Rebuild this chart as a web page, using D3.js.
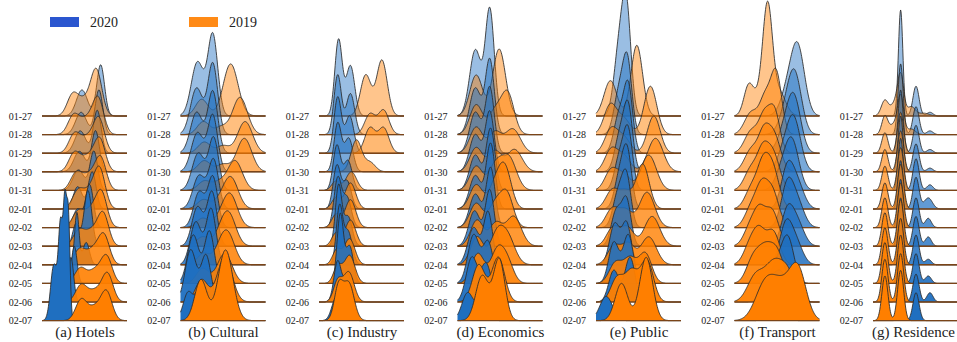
<!DOCTYPE html>
<html>
<head>
<meta charset="utf-8">
<script src="https://cdn.jsdelivr.net/npm/d3@7/dist/d3.min.js"></script>
<style>
  body { margin: 0; background: #fff; }
  svg { display: block; }
  text { font-family: "Liberation Serif", "Times New Roman", serif; fill: #222; }
</style>
</head>
<body>
<div id="chart"></div>
<script>
const dates = ['01-27', '01-28', '01-29', '01-30', '01-31', '02-01',
  '02-02', '02-03', '02-04', '02-05', '02-06', '02-07'];
const titles = ['(a) Hotels', '(b) Cultural', '(c) Industry', '(d) Economics',
  '(e) Public', '(f) Transport', '(g) Residence'];
const years = ['2020', '2019'];

// peaks per row: [position 0-100, height in rows, spread]
const hotels2020 = [
  [[47,1.4,5],[69,2.75,3.5]], [[46,1.2,5],[67,2.4,3.5]], [[45,1.2,5],[65,2.3,3.5]],
  [[44,1.1,5],[63,2.2,3.5]], [[43,1.1,5],[61,2.1,3.5]], [[42,1.2,4],[59,2.0,3.5]],
  [[42,1.0,4],[56,2.3,3.5]], [[40,1.2,3],[54,3.0,3.5]], [[41,2.8,2],[52,1.2,3]],
  [[38,2.0,2.5]], [[34,2.4,2.5]], [[14,3.0,3],[22,5.0,2],[27,5.6,1.5],[31,5.5,1.5]]
];
const hotels2019 = [
  [[36,1.1,5],[50,0.8,6],[64,2.4,5]], [[37,1.0,5],[52,0.8,6],[66,1.9,5]],
  [[38,1.0,5],[53,0.8,6],[67,1.8,5]], [[38,1.0,5],[54,0.8,6],[68,1.7,5]],
  [[40,0.9,5],[55,0.8,6],[69,1.7,5]], [[42,0.9,5],[56,0.9,6],[68,2.0,5]],
  [[42,0.8,5],[57,0.9,6],[70,1.8,5]], [[43,0.8,5],[58,0.8,6],[72,1.7,5]],
  [[44,0.8,5],[60,0.8,6],[73,1.5,5]], [[45,0.8,5],[62,0.7,6],[76,1.4,5]],
  [[46,0.9,5],[62,0.6,6],[77,1.5,5]], [[46,1.1,5],[62,0.7,6],[76,1.5,5]]
];
const cultural2020 = [
  [[20,2.9,5],[38,4.35,4]], [[19,2.5,5],[38,3.8,4]], [[19,2.2,5],[38,3.3,4]],
  [[20,2.1,5],[38,3.0,4]], [[21,2.0,5],[39,2.8,4]], [[22,1.8,5],[39,2.6,4]],
  [[22,1.9,4.5],[38,2.7,4]], [[20,2.1,4.5],[37,2.9,4]], [[18,2.3,4.5],[36,3.0,4]],
  [[15,2.6,4.5],[34,2.8,4]], [[12,2.8,4.5],[30,2.5,4]], [[9,1.5,4],[24,1.8,4]]
];
const cultural2019 = [
  [[25,0.9,5],[59,2.8,6]], [[27,0.7,5],[48,0.4,5],[70,2.0,6]],
  [[28,0.6,5],[50,0.4,5],[76,1.7,6]], [[28,0.6,5],[50,0.4,5],[75,1.8,6]],
  [[28,0.5,5],[45,0.4,5],[64,1.6,6]], [[27,0.5,5],[45,0.3,5],[59,1.7,6]],
  [[26,0.5,5],[45,0.3,5],[58,1.8,6]], [[26,0.5,5],[45,0.3,5],[56,1.8,6]],
  [[27,0.6,5],[45,0.4,5],[55,1.7,6]], [[26,0.8,5],[52,1.6,6]],
  [[25,1.2,5],[52,2.4,6]], [[24,2.2,5],[53,3.8,6]]
];
const industry2020 = [
  [[23,4.1,3.5],[37,2.7,4]], [[22,3.2,3.5],[37,2.2,4]], [[22,3.0,3.5],[36,2.0,4]],
  [[22,2.6,3.5],[35,1.8,4]], [[21,2.4,3.5],[34,1.6,4]], [[21,2.3,3.5],[33,1.5,4]],
  [[22,2.6,3.5],[33,1.6,4]], [[23,3.2,3],[34,1.6,4]], [[24,3.0,3],[34,1.8,4]],
  [[25,3.7,3],[36,2.0,3.5]], [[22,2.2,3.5],[34,1.5,3.5]], [[20,1.2,4],[32,1.0,4]]
];
const industry2019 = [
  [[55,2.2,5],[74,3.0,5]], [[60,1.1,5],[76,1.3,5]], [[60,1.35,5],[76,1.35,5]],
  [[44,1.7,5],[60,0.5,5]], [[20,0.5,4],[38,1.0,5]], [[20,0.6,4],[37,1.4,5]],
  [[20,0.7,4],[37,1.5,5]], [[20,0.7,4],[37,1.4,5]], [[21,0.8,4],[36,1.4,5]],
  [[22,0.9,4],[36,1.5,5]], [[22,1.1,4],[35,1.6,5]], [[23,1.8,4],[35,2.0,5]]
];
const economics2020 = [
  [[21,3.55,4.5],[38,5.7,3.5]], [[21,2.5,4.5],[38,4.0,3.5]], [[21,2.2,4.5],[38,3.5,3.5]],
  [[21,2.0,4.5],[38,3.2,3.5]], [[21,1.9,4.5],[39,3.3,3.5]], [[21,1.8,4.5],[39,3.5,3.5]],
  [[21,1.8,4.5],[39,3.2,3.5]], [[20,1.9,4.5],[38,3.0,3.5]], [[19,2.0,4.5],[36,2.8,3.5]],
  [[19,2.6,4.5],[36,2.2,4]], [[17,2.4,4.5],[34,2.0,4]], [[12,1.5,4.5],[30,1.4,4]]
];
const economics2019 = [
  [[22,2.2,5],[49,3.6,5]], [[22,1.6,5],[44,1.2,5],[59,2.2,5]],
  [[22,1.4,5],[44,1.1,5],[65,1.3,6]], [[22,1.3,5],[44,1.1,5],[67,1.2,6]],
  [[22,1.3,5],[44,1.2,5],[60,1.8,6]], [[22,1.3,5],[44,1.2,5],[56,2.1,5]],
  [[22,1.3,5],[44,1.2,5],[58,1.8,5]], [[23,1.4,5],[45,1.2,5],[66,1.6,6]],
  [[23,1.5,5],[45,1.3,5],[58,1.6,6]], [[24,1.6,5],[46,1.6,5],[58,1.2,5]],
  [[25,2.0,5],[48,2.4,5]], [[29,2.4,5],[49,3.3,4.5]]
];
const public2020 = [
  [[27,3.4,4],[36,5.4,3.5]], [[27,2.2,4],[37,3.8,3.5]], [[27,2.0,4],[38,3.5,3.5]],
  [[28,1.9,4],[38,3.3,3.5]], [[28,1.8,4],[38,3.0,3.5]], [[28,1.8,4],[37,2.8,3.5]],
  [[26,1.8,4],[36,2.6,3.5]], [[24,1.9,4],[36,2.4,3.5]], [[22,2.2,4],[36,2.2,3.5]],
  [[21,2.2,4],[38,2.6,4]], [[21,1.7,4],[40,2.4,4]], [[12,1.3,5]]
];
const public2019 = [
  [[17,1.9,5],[48,3.8,4.5]], [[17,1.6,5],[33,0.8,5],[64,2.6,5]],
  [[18,1.3,5],[33,0.8,5],[68,2.0,5]], [[18,1.2,5],[33,0.8,5],[70,1.8,6]],
  [[18,1.1,5],[33,0.8,5],[62,1.9,6]], [[19,1.0,5],[35,0.9,5],[55,2.4,5]],
  [[19,1.0,5],[35,0.9,5],[60,1.9,6]], [[20,1.0,5],[37,1.0,5],[66,1.6,6]],
  [[21,1.0,5],[38,1.1,5],[62,1.5,6]], [[23,1.1,5],[40,1.3,5],[58,1.6,5]],
  [[25,1.3,5],[42,1.6,5],[60,2.2,5]], [[30,2.0,5],[59,3.4,5]]
];
const transport2020 = [
  [[62,1.2,5],[74.5,3.6,5]], [[60,1.0,5],[71,3.1,5]], [[58,1.0,5],[70,2.9,5]],
  [[58,1.0,5],[70,2.7,5]], [[56,1.0,5],[68,2.5,5]], [[62,2.1,4.5],[74,1.3,5]],
  [[62,2.2,4.5],[74,1.3,5]], [[62,1.8,4.5],[74,1.2,5]], [[60,2.0,4.5],[72,1.2,5]],
  [[50,1.0,5],[63,2.3,4.5]], [[40,1.0,5],[55,1.5,5]], [[50,1.2,5]]
];
const transport2019 = [
  [[16.5,1.5,3.5],[30,1.0,5],[39,5.3,3.5],[52,1.3,5]], [[20,1.2,5],[36,1.8,4],[49,3.3,4]],
  [[20,1.2,5],[35,1.8,4],[47,2.2,4]], [[20,1.2,5],[34,1.6,4],[46,2.0,5]],
  [[20,1.2,5],[33,1.6,4],[45,2.0,5]], [[21,1.2,5],[33,1.6,4],[44,2.3,5]],
  [[21,1.2,5],[32,1.5,4],[44,2.0,5]], [[20,1.2,5],[30,1.3,4],[44,1.9,5]],
  [[20,1.3,5],[30,1.2,4],[45,1.8,5]], [[22,1.3,5],[36,1.6,5],[50,1.6,5]],
  [[25,1.4,6],[45,1.8,6],[62,1.6,6]], [[35,1.7,7],[55,1.8,8],[75,2.5,6]]
];
const residence2020 = [
  [[32.5,5.7,2.2],[50.6,1.6,3],[67,0.2,3]], [[32.5,3.8,2.5],[50.6,1.5,3],[67,0.2,3]],
  [[32.5,3.4,2.5],[50.6,1.5,3],[67,0.2,3]], [[32.5,3.0,2.5],[50.6,1.5,3],[67,0.2,3]],
  [[32.5,2.8,2.5],[50.6,1.7,3],[67,0.3,3]], [[32.5,2.6,2.5],[50.6,1.7,3],[65,0.6,4]],
  [[32.5,2.6,2.5],[50.6,1.6,3],[65,0.5,3]], [[32.5,2.6,2.5],[50.6,1.6,3],[65,0.5,3]],
  [[32.5,2.4,2.5],[50.6,1.6,3],[65,0.3,3]], [[32.5,2.2,2.5],[50.6,1.6,3],[65,0.4,3]],
  [[32.5,1.8,2.5],[50.6,1.5,3],[67,0.5,3]], [[33,0.8,2.5],[50.6,1.5,3]]
];
const residence2019 = [
  [[14,0.85,3.5],[25,0.6,3.5],[32.5,2.2,3],[45,0.5,4],[60,0.15,5]],
  [[14,1.0,3],[24,0.5,3.5],[32.5,2.1,3],[45,0.3,4]],
  [[14,1.1,3],[32.5,2.2,3]], [[14,1.2,3],[32.5,2.2,3]], [[14,1.3,3],[32.5,2.3,3]],
  [[14,1.4,3],[32.5,2.4,3]], [[14,1.6,3],[32.5,2.4,3]], [[14,1.8,3],[32.5,2.5,3]],
  [[14,2.0,3],[32.5,2.5,3]], [[14,2.2,3],[32.5,2.6,3]], [[14,2.3,3],[32.5,2.6,3]],
  [[14,2.4,3],[32.5,2.7,3]]
];

// bw = smoothing bandwidth of each panel's ridges
const panels = [
  { title: titles[0], blue: hotels2020, orange: hotels2019, bw: 1.3 },
  { title: titles[1], blue: cultural2020, orange: cultural2019, bw: 1.45 },
  { title: titles[2], blue: industry2020, orange: industry2019, bw: 1.25 },
  { title: titles[3], blue: economics2020, orange: economics2019, bw: 1.5 },
  { title: titles[4], blue: public2020, orange: public2019, bw: 1.5 },
  { title: titles[5], blue: transport2020, orange: transport2019, bw: 1.6 },
  { title: titles[6], blue: residence2020, orange: residence2019, bw: 1.2 }
];

const width = 957;
const height = 342;
const panelStart = 42;
const panelStep = 138.5;
const panelWidth = 85;
const colors = { blue: '#1f6fc0', orange: '#ff7f00' };

const svg = d3.select('#chart')
  .append('svg')
  .attr('width', width)
  .attr('height', height);

const yBase = d3.scalePoint().domain(dates).range([116, 320.6]);
const hScale = d3.scaleLinear().domain([0, 1]).range([0, yBase.step()]);
const alpha = d3.scaleLinear().domain([0, dates.length - 1]).range([0.45, 1]);
const grid = d3.range(0, 100.01, 0.5);

function density(peaks, bw) {
  return grid.map((g) => {
    let v = 0;
    peaks.forEach(([c, h, s]) => { v += h * Math.exp(-0.5 * ((g - c) / (s * bw)) ** 2); });
    return [g, v < 0.01 ? 0 : v];
  });
}

panels.forEach((p, k) => {
  const x0 = panelStart + k * panelStep;
  const xScale = d3.scaleLinear().domain([0, 100]).range([x0, x0 + panelWidth]);
  const g = svg.append('g').attr('class', 'panel');

  dates.forEach((d, i) => {
    const base = yBase(d);
    const area = d3.area()
      .x((v) => xScale(v[0]))
      .y0(base)
      .y1((v) => base - hScale(v[1]));
    const line = d3.line()
      .x((v) => xScale(v[0]))
      .y((v) => base - hScale(v[1]));

    ['blue', 'orange'].forEach((key) => {
      const pts = density(p[key][i], p.bw);
      g.append('path')
        .attr('d', area(pts))
        .attr('fill', colors[key])
        .attr('fill-opacity', alpha(i));
      g.append('path')
        .attr('d', line(pts))
        .attr('fill', 'none')
        .attr('stroke', '#2a2a2a')
        .attr('stroke-opacity', 0.85)
        .attr('stroke-width', 1);
    });

    g.append('line')
      .attr('x1', x0)
      .attr('x2', x0 + panelWidth)
      .attr('y1', base)
      .attr('y2', base)
      .attr('stroke', '#7a4418')
      .attr('stroke-width', 1.4);
  });

  g.append('g')
    .attr('transform', `translate(${x0 - 1}, 0)`)
    .call(d3.axisLeft(yBase).tickSize(0).tickPadding(9))
    .call((a) => a.select('.domain').remove())
    .selectAll('text')
    .attr('font-size', 10)
    .attr('font-family', '"Liberation Serif", serif')
    .attr('fill', '#333');

  const title = g.append('text')
    .attr('y', 337)
    .attr('text-anchor', 'middle')
    .attr('font-size', 15)
    .text(p.title);
  const tw = title.node().getComputedTextLength();
  title.attr('x', Math.min(x0 + 43, width - 2 - tw / 2));
});

// legend
const legend = svg.append('g')
  .selectAll('g')
  .data(years)
  .enter()
  .append('g')
  .attr('transform', (d, i) => `translate(${50 + i * 139}, 17)`);

legend.append('rect')
  .attr('width', 29)
  .attr('height', 10)
  .attr('fill', (d, i) => (i === 0 ? '#2a56cf' : '#ff8a16'));

legend.append('text')
  .attr('x', 40)
  .attr('y', 10)
  .attr('font-size', 14)
  .text((d) => d);
</script>
</body>
</html>
